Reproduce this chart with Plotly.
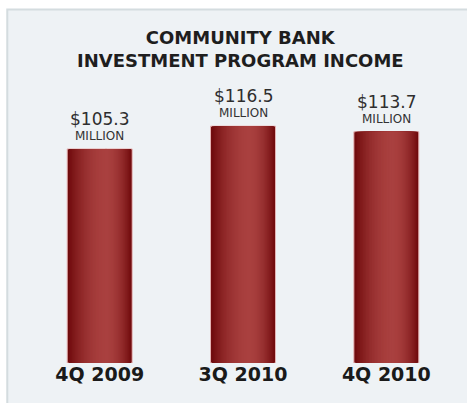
import plotly.graph_objects as go

# Quarterly community bank investment program income ($ million)
quarters = ["4Q 2009", "3Q 2010", "4Q 2010"]
income = [105.3, 116.5, 113.7]
value_labels = ["$105.3", "$116.5", "$113.7"]
unit_label = "MILLION"

W, H = 467, 403
M_L, M_R, M_T, M_B = 27.75, 8.75, 10, 40
plot_w = W - M_L - M_R
plot_h = H - M_T - M_B


def px_x(px):
    """Pixel x -> paper fraction."""
    return (px - M_L) / plot_w


def px_y(py):
    """Pixel y (from top) -> paper fraction."""
    return (H - M_B - py) / plot_h


def mix(c1, c2, t):
    return "rgb({},{},{})".format(*[round(a + (b - a) * t) for a, b in zip(c1, c2)])


LIGHT = (169, 64, 63)
DARK = (110, 9, 11)
BAR_W = 0.453

fig = go.Figure()

# Base bar: dark edges with a thin pale outline
fig.add_trace(go.Bar(
    x=list(range(len(quarters))), y=income, width=BAR_W, offset=-BAR_W / 2,
    marker=dict(color=mix(LIGHT, DARK, 1.0), line=dict(color="#e6b4b4", width=1)),
    hoverinfo="skip", showlegend=False,
))

# Narrower, lighter layers give the rounded (cylindrical) shading
N = 26
for k in range(1, N):
    f = 1 - k / N  # fraction of full bar width
    w = BAR_W * f
    centre = -BAR_W / 2 + BAR_W * (0.5 + 0.10 * (1 - f))
    t = f ** 2.0
    fig.add_trace(go.Bar(
        x=list(range(len(quarters))), y=income, width=w, offset=centre - w / 2,
        marker=dict(color=mix(LIGHT, DARK, t), line=dict(width=0)),
        hoverinfo="skip", showlegend=False,
    ))

annotations = [
    dict(text="<b>COMMUNITY BANK<br>INVESTMENT PROGRAM INCOME</b>",
         xref="paper", yref="paper", x=px_x(240), y=px_y(25),
         xanchor="center", yanchor="top", showarrow=False,
         font=dict(family="DejaVu Sans", size=18, color="#1e1e1e")),
]
for i, (v, lab) in enumerate(zip(income, value_labels)):
    annotations.append(dict(
        text=lab, x=i, y=v, xref="x", yref="y", xanchor="center",
        yanchor="bottom", yshift=18, showarrow=False,
        font=dict(family="DejaVu Sans", size=17, color="#2e2e2e")))
    annotations.append(dict(
        text=unit_label, x=i, y=v, xref="x", yref="y", xanchor="center",
        yanchor="bottom", yshift=4, showarrow=False,
        font=dict(family="DejaVu Sans", size=12, color="#333333")))

fig.update_layout(
    width=W, height=H,
    margin=dict(l=M_L, r=M_R, t=M_T, b=M_B, pad=0),
    paper_bgcolor="white",
    plot_bgcolor="rgba(0,0,0,0)",
    barmode="overlay",
    showlegend=False,
    annotations=annotations,
    shapes=[dict(
        type="rect", xref="paper", yref="paper", layer="below",
        x0=px_x(7), x1=px_x(480), y0=px_y(420), y1=px_y(9.5),
        fillcolor="#eef2f5", line=dict(color="#d4dcdf", width=2),
    )],
    xaxis=dict(
        range=[-0.5, 2.5], tickmode="array",
        tickvals=list(range(len(quarters))),
        ticktext=["<b>{}</b>".format(q) for q in quarters],
        tickfont=dict(family="DejaVu Sans", size=19, color="#1a1a1a"),
        ticklabelstandoff=-2,
        showgrid=False, zeroline=False, showline=False, ticks="",
        fixedrange=True,
    ),
    yaxis=dict(
        range=[0, plot_h / 2.033], visible=False, showgrid=False,
        zeroline=False, fixedrange=True,
    ),
)

fig.write_html("out.html", config={"displayModeBar": False})
